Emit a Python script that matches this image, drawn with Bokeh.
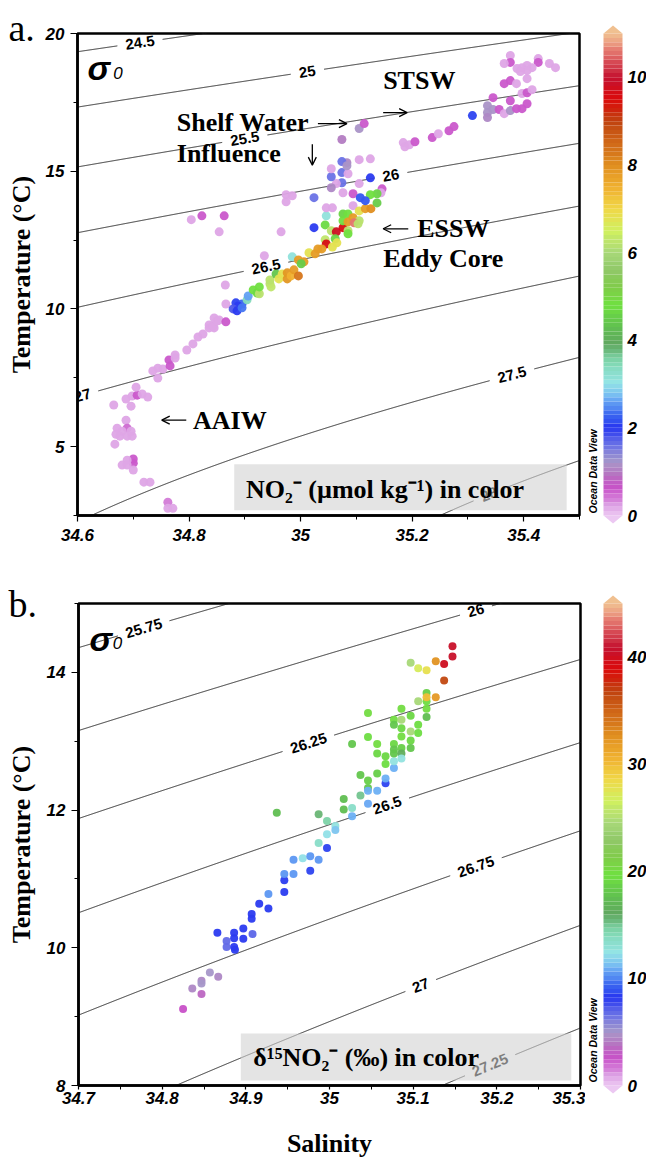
import numpy as np
from bokeh.plotting import figure
from bokeh.layouts import column, row
from bokeh.models import (ColumnDataSource, FixedTicker, CustomJSTickFormatter,
                          Label, BoxAnnotation, Range1d, Arrow, OpenHead)
from bokeh.transform import linear_cmap
from bokeh.core.properties import value
from bokeh.embed import file_html
from bokeh.resources import INLINE

# ------------------------------------------------------------------ data (panel a)
sal_a = [34.665, 34.687, 34.696, 34.698, 34.707, 34.705, 34.716, 34.726, 34.687, 34.689,
         34.671, 34.680, 34.669, 34.667, 34.676, 34.689, 34.698, 34.696, 34.700, 34.700,
         34.689, 34.680, 34.689, 34.700, 34.719, 34.730, 34.762, 34.762, 34.771, 34.744,
         34.735, 34.744, 34.753, 34.775, 34.764, 34.766, 34.775, 34.796, 34.807, 34.816,
         34.825, 34.836, 34.845, 34.836, 34.843, 34.845, 34.850, 34.854, 34.866, 34.866,
         34.865, 34.884, 34.895, 34.888, 34.879, 34.886, 34.895, 34.904, 34.906, 34.915,
         34.922, 34.926, 34.926, 34.935, 34.945, 34.947, 34.945, 34.956, 34.961, 34.967,
         34.976, 34.976, 34.983, 34.988, 34.996, 34.985, 34.996, 35.006, 35.001, 35.015,
         35.026, 35.031, 34.804, 34.823, 34.863, 34.854, 34.974, 34.985, 34.974, 35.024,
         35.024, 34.965, 35.044, 35.055, 35.064, 35.076, 35.062, 35.044, 35.046, 35.057,
         35.038, 35.065, 35.046, 35.046, 35.057, 35.094, 35.105, 35.116, 35.126, 35.076,
         35.085, 35.094, 35.105, 35.076, 35.085, 35.096, 35.103, 35.085, 35.085, 35.076,
         35.094, 35.146, 35.144, 35.137, 35.125, 35.107, 35.116, 35.137, 35.105, 35.074,
         35.064, 35.055, 35.125, 35.055, 35.074, 35.085, 35.055, 35.083, 35.074, 35.083,
         35.105, 35.125, 35.074, 35.105, 35.114, 35.184, 35.187, 35.195, 35.205, 35.236,
         35.247, 35.266, 35.275, 35.308, 35.335, 35.335, 35.335, 35.345, 35.356, 35.365,
         35.376, 35.387, 35.397, 35.345, 35.376, 35.406, 35.397, 35.406, 35.415, 35.365,
         35.376, 35.387, 35.406, 35.376, 35.376, 35.365, 35.426, 35.426, 35.446, 35.457,
         35.388, 35.397, 35.406, 35.415, 35.406, 35.394]
temp_a = [6.51, 6.73, 6.47, 6.84, 6.87, 7.16, 6.91, 6.80, 5.96, 5.67,
          5.67, 5.56, 5.45, 5.09, 5.38, 5.38, 5.38, 5.56, 4.55, 4.40,
          4.51, 4.33, 4.33, 4.15, 3.71, 3.71, 2.98, 2.76, 2.76, 7.85,
          7.75, 7.49, 7.82, 8.33, 8.15, 7.93, 8.22, 8.51, 8.73, 8.98,
          9.09, 9.31, 9.31, 9.42, 9.38, 9.67, 9.56, 9.60, 9.53, 10.18,
          10.87, 10.22, 10.18, 10.11, 10.00, 9.93, 10.04, 10.33, 10.47, 10.69,
          10.58, 10.55, 10.80, 11.93, 10.91, 10.80, 11.05, 11.27, 11.09, 11.27,
          11.31, 11.09, 11.20, 11.42, 11.20, 11.89, 11.78, 11.71, 11.64, 12.04,
          12.00, 12.18, 13.24, 13.38, 13.38, 12.80, 14.15, 14.11, 13.89, 14.04,
          12.95, 12.80, 13.05, 12.84, 12.80, 12.95, 12.55, 12.51, 12.36, 12.25,
          12.18, 12.40, 13.38, 13.67, 13.67, 13.75, 13.56, 13.64, 13.64, 13.45,
          13.45, 13.31, 13.20, 13.20, 13.16, 13.13, 13.09, 12.84, 12.73, 14.22,
          14.18, 14.36, 14.22, 14.18, 14.15, 14.04, 13.93, 13.85, 14.55, 14.58,
          14.55, 14.40, 14.76, 14.80, 14.95, 14.91, 15.09, 15.31, 15.35, 15.20,
          15.42, 15.45, 16.15, 16.55, 16.73, 16.04, 15.89, 15.96, 16.07, 16.22,
          16.36, 16.47, 16.62, 17.02, 17.38, 17.13, 16.95, 17.24, 17.24, 17.09,
          17.20, 17.27, 17.27, 17.67, 17.56, 17.45, 17.82, 17.85, 17.96, 18.18,
          18.29, 18.18, 18.36, 19.20, 18.95, 18.91, 19.09, 18.95, 18.91, 18.76,
          18.73, 18.76, 18.84, 18.76, 18.65, 18.62]
no2_a = [0.2, 0.2, 0.2, 0.2, 0.6, 0.2, 0.2, 0.2, 0.2, 0.5,
         0.2, 0.2, 0.2, 0.2, 0.2, 0.2, 0.2, 0.2, 0.6, 0.6,
         0.2, 0.2, 0.2, 0.2, 0.2, 0.2, 0.4, 0.2, 0.2, 0.2,
         0.2, 0.2, 0.2, 0.2, 0.6, 0.6, 0.2, 0.2, 0.2, 0.2,
         0.2, 0.2, 0.2, 0.2, 0.2, 0.2, 0.2, 0.2, 0.6, 0.2,
         0.2, 2.1, 2.3, 2.0, 1.8, 2.0, 2.4, 3.4, 2.6, 4.8,
         4.7, 6.2, 4.8, 0.2, 6.2, 6.3, 6.2, 4.4, 6.8, 6.8,
         7.9, 7.9, 7.5, 7.8, 8.3, 3.1, 7.8, 7.8, 4.5, 6.8,
         7.8, 7.8, 0.2, 0.6, 0.6, 0.2, 0.2, 0.2, 0.2, 1.6,
         2.0, 0.2, 4.7, 6.2, 9.8, 9.6, 4.6, 6.3, 9.6, 6.8,
         7.8, 6.8, 3.1, 0.2, 0.2, 0.2, 6.8, 7.8, 8.0, 4.6,
         4.8, 7.8, 6.2, 4.8, 7.8, 10.6, 6.2, 6.2, 4.8, 0.2,
         0.6, 0.6, 0.2, 4.6, 4.8, 2.2, 2.2, 4.5, 0.2, 1.6,
         0.2, 1.1, 2.0, 1.6, 1.6, 0.2, 0.2, 1.1, 1.6, 1.2,
         0.2, 0.2, 1.0, 1.2, 0.6, 0.2, 0.2, 0.2, 0.6, 0.6,
         0.2, 0.6, 0.6, 2.1, 1.2, 1.2, 1.1, 1.2, 0.6, 0.2,
         1.2, 0.6, 0.6, 0.6, 0.6, 0.6, 0.2, 0.6, 0.2, 0.6,
         0.6, 0.2, 0.2, 0.2, 0.6, 0.2, 0.2, 0.6, 0.2, 0.2,
         0.2, 0.2, 0.2, 0.2, 0.2, 0.2]

# ------------------------------------------------------------------ data (panel b)
sal_b = [34.825, 34.836, 34.847, 34.847, 34.847, 34.857, 34.867, 34.866, 34.877, 34.877,
         34.886, 34.886, 34.886, 34.887, 34.897, 34.897, 34.908, 34.907, 34.907, 34.916,
         34.927, 34.927, 34.946, 34.946, 34.946, 34.957, 34.957, 34.968, 34.977, 34.977,
         34.987, 34.987, 34.997, 34.997, 35.007, 35.007, 34.997, 34.987, 34.937, 35.017,
         35.017, 35.027, 35.027, 35.037, 35.037, 35.046, 35.046, 35.046, 35.046, 35.057,
         35.057, 35.046, 35.046, 35.057, 35.057, 35.027, 35.067, 35.067, 35.067, 35.067,
         35.077, 35.077, 35.077, 35.077, 35.077, 35.077, 35.077, 35.086, 35.086, 35.086,
         35.086, 35.086, 35.086, 35.086, 35.097, 35.097, 35.097, 35.097, 35.097, 35.106,
         35.106, 35.106, 35.106, 35.116, 35.116, 35.116, 35.116, 35.116, 35.116, 35.127,
         35.127, 35.137, 35.137, 35.147, 35.147]
temp_b = [9.11, 9.41, 9.52, 9.48, 9.33, 9.64, 9.58, 10.22, 10.10, 10.01,
          10.22, 10.14, 10.01, 9.97, 10.28, 10.13, 10.20, 10.49, 10.42, 10.64,
          10.78, 10.57, 10.98, 11.07, 10.81, 11.07, 11.28, 11.30, 11.33, 11.12,
          11.28, 11.52, 11.65, 11.45, 11.77, 11.71, 11.84, 11.94, 11.96, 12.16,
          12.01, 12.03, 11.91, 12.21, 12.51, 12.09, 12.32, 12.28, 12.43, 12.28,
          12.53, 13.06, 13.41, 12.96, 12.82, 12.96, 12.78, 12.67, 12.39, 12.46,
          12.61, 12.71, 12.96, 12.88, 12.82, 13.31, 13.24, 13.47, 13.31, 13.19,
          13.07, 12.90, 12.82, 12.75, 14.14, 13.37, 13.14, 13.01, 12.90, 14.06,
          13.58, 13.24, 13.12, 14.03, 13.70, 13.58, 13.47, 13.35, 13.64, 13.64,
          14.16, 14.12, 13.88, 14.38, 14.23]
d15n_b = [2.5, 4.5, 4.5, 5.0, 3.5, 5.0, 4.5, 8.2, 6.8, 6.8,
          8.2, 8.2, 8.2, 8.2, 8.2, 8.2, 7.0, 8.2, 8.2, 8.2,
          10.5, 8.3, 8.3, 10.5, 8.3, 10.5, 10.5, 12.3, 10.5, 8.5,
          10.5, 13.5, 12.3, 8.5, 12.5, 11.5, 14.5, 15.5, 17.5, 17.5,
          17.5, 13.5, 11.0, 15.0, 18.0, 10.8, 18.0, 11.0, 18.5, 11.0,
          18.5, 19.5, 20.0, 20.0, 19.0, 18.0, 19.0, 19.5, 8.5, 11.0,
          11.0, 12.5, 19.0, 18.0, 18.0, 20.0, 18.0, 20.0, 24.5, 19.0,
          20.0, 18.5, 16.5, 12.5, 24.5, 19.0, 24.5, 19.0, 18.0, 27.0,
          24.5, 19.5, 19.5, 28.0, 18.5, 19.5, 20.0, 17.5, 30.0, 32.0,
          32.5, 40.0, 36.5, 40.5, 40.5]

# axes / ticks / isopycnal levels
xticks_a = [34.6, 34.8, 35.0, 35.2, 35.4]
xminor_a = [34.7, 34.9, 35.1, 35.3, 35.5]
yticks_a = [5, 10, 15, 20]
yminor_a = [2.5, 7.5, 12.5, 17.5]
xticks_b = [34.7, 34.8, 34.9, 35.0, 35.1, 35.2, 35.3]
xminor_b = [34.75, 34.85, 34.95, 35.05, 35.15, 35.25]
yticks_b = [8, 10, 12, 14]
yminor_b = [9, 11, 13, 15]
cbar_ticks_a = [0, 2, 4, 6, 8, 10]
cbar_ticks_b = [0, 10, 20, 30, 40]
NO2_MAX = 11.0
D15N_MAX = 45.0

levels_a = [24.5, 25.0, 25.5, 26.0, 26.5, 27.0, 27.5, 28.0]
label_sal_a = [34.712, 35.012, 34.900, 35.162, 34.938, 34.609, 35.379, 35.338]
levels_b = [25.75, 26.0, 26.25, 26.5, 26.75, 27.0, 27.25]
label_sal_b = [34.778, 35.175, 34.975, 35.069, 35.175, 35.109, 35.192]
SIGMA_SHIFT = 0.13   # offset that matches the isopycnal placement used by the original ODV plot

SERIF = "Liberation Serif"
SANS = "Liberation Sans"

STOPS = [(0.0, "#ecc8f2"), (0.018, "#dca0e4"), (0.055, "#c850c8"), (0.082, "#b870c0"),
         (0.109, "#a898c8"), (0.145, "#6a72e6"), (0.182, "#2838f0"), (0.209, "#3c68f0"),
         (0.245, "#70b4f4"), (0.273, "#94e4e6"), (0.318, "#80d8b0"), (0.355, "#60a860"),
         (0.391, "#60c050"), (0.436, "#70e040"), (0.473, "#80cc48"), (0.509, "#90c868"),
         (0.545, "#a8d878"), (0.591, "#d0f060"), (0.636, "#f0d848"), (0.682, "#f0b030"),
         (0.727, "#e09020"), (0.773, "#d06818"), (0.818, "#c04410"), (0.864, "#dc0a0a"),
         (0.909, "#c41230"), (0.945, "#d85058"), (0.973, "#e88878"), (1.0, "#f0c090")]


def make_palette(stops, n=256):
    pos = np.array([s[0] for s in stops])
    rgb = np.array([[int(c[1:3], 16), int(c[3:5], 16), int(c[5:7], 16)] for _, c in stops], float)
    t = np.linspace(0, 1, n)
    r = np.interp(t, pos, rgb[:, 0]); g = np.interp(t, pos, rgb[:, 1]); b = np.interp(t, pos, rgb[:, 2])
    return ["#%02x%02x%02x" % (int(round(a)), int(round(c)), int(round(d))) for a, c, d in zip(r, g, b)]


PAL = make_palette(STOPS)


def sigma0(S, T):
    rw = (999.842594 + 6.793952e-2 * T - 9.095290e-3 * T ** 2 + 1.001685e-4 * T ** 3
          - 1.120083e-6 * T ** 4 + 6.536332e-9 * T ** 5)
    A = 8.24493e-1 - 4.0899e-3 * T + 7.6438e-5 * T ** 2 - 8.2467e-7 * T ** 3 + 5.3875e-9 * T ** 4
    B = -5.72466e-3 + 1.0227e-4 * T - 1.6546e-6 * T ** 2
    C = 4.8314e-4
    return rw + A * S + B * S ** 1.5 + C * S ** 2 - 1000.0


def iso_T(S, level):
    S = np.asarray(S, float)
    lo = np.full_like(S, -2.0); hi = np.full_like(S, 40.0)
    for _ in range(60):
        mid = 0.5 * (lo + hi)
        f = sigma0(S, mid) - level
        lo = np.where(f > 0, mid, lo)
        hi = np.where(f > 0, hi, mid)
    return 0.5 * (lo + hi)


def no_align(p):
    # keep every figure's frame where its own borders put it (no frame alignment inside rows)
    if "frame_align" in p.properties():
        p.frame_align = False
    return p


def add_isopycnals(p, levels, label_sal, xr, yr, fw, fh, fs=15):
    kx = fw / (xr[1] - xr[0]); ky = fh / (yr[1] - yr[0])
    S = np.linspace(xr[0] - 0.03, xr[1] + 0.03, 900)
    xs, ys = [], []
    lx, ly, lt, la = [], [], [], []
    for lev, sc in zip(levels, label_sal):
        L = lev + SIGMA_SHIFT
        T = iso_T(S, L)
        tc = float(iso_T([sc], L)[0])
        d = 0.003
        t1, t2 = iso_T([sc - d, sc + d], L)
        ang = float(np.arctan2((t2 - t1) * ky, 2 * d * kx))
        txt = f"{lev:g}"
        w = fs * (0.556 * sum(ch.isdigit() for ch in txt) + 0.278 * txt.count("."))
        half = 0.5 * w + 8
        dist = np.hypot((S - sc) * kx, (T - tc) * ky)
        keep = dist > half
        sx, sy = [], []
        for k in range(len(S)):
            if keep[k]:
                sx.append(float(S[k])); sy.append(float(T[k]))
            elif sx:
                xs.append(sx); ys.append(sy); sx, sy = [], []
        if sx:
            xs.append(sx); ys.append(sy)
        lx.append(sc); ly.append(tc); lt.append(txt); la.append(ang)
    p.multi_line(xs, ys, line_color="#1a1a1a", line_width=0.9)
    p.text(x=lx, y=ly, text=lt, angle=la, text_align="center", text_baseline="middle",
           text_font=value(SANS), text_font_style="bold", text_font_size=value(f"{fs}px"),
           text_color="black")


def style_axes(p, xt, xm, yt, ym, x_out, x_stand):
    p.xgrid.visible = False
    p.ygrid.visible = False
    p.outline_line_color = "black"
    p.outline_line_width = 2.5
    fmt = CustomJSTickFormatter(code="return String(Math.round(tick * 1000) / 1000);")
    for ax, t, m in [(p.xaxis[0], xt, xm), (p.yaxis[0], yt, ym)]:
        ax.ticker = FixedTicker(ticks=t, minor_ticks=m)
        ax.formatter = fmt
        ax.axis_line_width = 2.5
        ax.axis_line_color = "black"
        ax.major_tick_line_color = "black"
        ax.major_tick_line_width = 1.2
        ax.minor_tick_line_color = "black"
        ax.minor_tick_line_width = 1.0
        ax.major_tick_in = 0
        ax.minor_tick_in = 0
        ax.minor_tick_out = 4
        ax.major_label_text_font = SANS
        ax.major_label_text_font_style = "bold italic"
        ax.major_label_text_font_size = "17px"
        ax.major_label_text_color = "black"
        ax.axis_label_text_font = SERIF
        ax.axis_label_text_font_style = "bold"
        ax.axis_label_text_font_size = "26px"
        ax.axis_label_text_color = "black"
    p.yaxis[0].major_tick_out = 7
    p.yaxis[0].major_label_standoff = 6
    p.xaxis[0].major_tick_out = x_out
    p.xaxis[0].major_label_standoff = x_stand
    p.xaxis[0].axis_label_standoff = 22


def left_strip(height, tag, tag_baseline_px, ylabel_center_px):
    """Narrow figure on the left holding the panel tag and the rotated temperature label."""
    p = figure(width=40, height=height, x_range=Range1d(0, 40), y_range=Range1d(0, height),
               min_border=0, toolbar_location=None, output_backend="svg", title=None,
               x_axis_location=None, y_axis_location=None, outline_line_color=None)
    no_align(p)
    p.xgrid.visible = False
    p.ygrid.visible = False
    p.text(x=[8], y=[height - tag_baseline_px], text=[tag], text_align="left",
           text_baseline="alphabetic", text_font=value(SERIF), text_font_size=value("38px"),
           text_color="black")
    p.text(x=[21], y=[height - ylabel_center_px], text=["Temperature (°C)"], angle=np.pi / 2,
           text_align="center", text_baseline="middle", text_font=value(SERIF),
           text_font_style="bold", text_font_size=value("26px"), text_color="black")
    return p


def colorbar_fig(vmax, ticks, height, frame_top, frame_bottom, odv_px_from_bottom):
    k = (frame_bottom - frame_top) / vmax
    y0 = -(height - frame_bottom) / k
    y1 = vmax + frame_top / k
    p = figure(width=61, height=height, x_range=Range1d(585, 646), y_range=Range1d(y0, y1),
               min_border=0, toolbar_location=None, output_backend="svg", title=None,
               x_axis_location=None, y_axis_location=None, outline_line_color=None)
    no_align(p)
    p.xgrid.visible = False
    p.ygrid.visible = False
    nb = 110
    edges = np.linspace(0, vmax, nb + 1)
    src = ColumnDataSource(dict(b=edges[:-1], t=edges[1:], v=0.5 * (edges[:-1] + edges[1:])))
    p.quad(left=603, right=622, bottom="b", top="t", source=src, line_color=None,
           fill_color=linear_cmap("v", PAL, 0, vmax))
    h = 8 / k
    p.patches(xs=[[603, 622, 612.5], [603, 622, 612.5]], ys=[[vmax, vmax, vmax + h], [0, 0, -h]],
              fill_color=[PAL[-1], PAL[0]], line_color=None)
    p.text(x=[627] * len(ticks), y=ticks, text=[str(t) for t in ticks], text_align="left",
           text_baseline="middle", text_font=value(SANS), text_font_style="bold italic",
           text_font_size=value("17px"), text_color="black")
    p.text(x=[592], y=[odv_px_from_bottom / k], text=["Ocean Data View"], angle=np.pi / 2,
           text_align="left", text_baseline="middle", text_font=value(SANS),
           text_font_style="bold italic", text_font_size=value("10.5px"), text_color="black")
    return p


def serif_text(p, x, y, txt, size="26px", align="left", baseline="middle", color="black"):
    p.text(x=x, y=y, text=txt, text_align=align, text_baseline=baseline,
           text_font=value(SERIF), text_font_style="bold", text_font_size=value(size),
           text_color=color)


def arrow(p, x0, y0, x1, y1):
    p.add_layout(Arrow(end=OpenHead(size=8, line_width=1.3, line_color="black"),
                       x_start=x0, y_start=y0, x_end=x1, y_end=y1,
                       line_width=1.3, line_color="black"))


# ================================================================== panel a
xr_a = (34.6, 35.5); yr_a = (2.5, 20.0)
pa = figure(width=545, height=560, x_range=Range1d(*xr_a), y_range=Range1d(*yr_a),
            min_border_left=37, min_border_right=6, min_border_top=33, min_border_bottom=45,
            toolbar_location=None, output_backend="svg", title=None)
no_align(pa)
style_axes(pa, xticks_a, xminor_a, yticks_a, yminor_a, 6, 7)
add_isopycnals(pa, levels_a, label_sal_a, xr_a, yr_a, 502, 482)

src_a = ColumnDataSource(dict(sal=sal_a, temp=temp_a, val=no2_a))
pa.scatter("sal", "temp", source=src_a, size=9, line_color=None,
           fill_color=linear_cmap("val", PAL, 0, NO2_MAX), fill_alpha=0.95)

# sigma_0 tag
pa.text(x=[34.618], y=[18.73], text=["σ"], text_align="left", text_baseline="alphabetic",
        text_font=value(SANS), text_font_style="bold italic", text_font_size=value("34px"))
pa.text(x=[34.664], y=[18.58], text=["0"], text_align="left", text_baseline="alphabetic",
        text_font=value(SANS), text_font_style="italic", text_font_size=value("17px"))

# water-mass annotations
serif_text(pa, [34.778, 34.778, 35.148, 35.209, 35.148, 34.807],
           [16.76, 15.64, 18.29, 12.91, 11.82, 5.96],
           ["Shelf Water", "Influence", "STSW", "ESSW", "Eddy Core", "AAIW"])
arrow(pa, 35.031, 16.73, 35.083, 16.73)      # Shelf Water ->
arrow(pa, 35.021, 15.98, 35.021, 15.22)      # Influence (down)
arrow(pa, 35.148, 17.13, 35.191, 17.13)      # STSW ->
arrow(pa, 35.193, 12.91, 35.148, 12.91)      # <- ESSW
arrow(pa, 34.795, 5.96, 34.751, 5.96)        # <- AAIW

pa.add_layout(BoxAnnotation(left=34.881, right=35.477, bottom=2.69, top=4.36,
                            fill_color="#d2d2d2", fill_alpha=0.6, line_color=None))
pa.add_layout(Label(x=34.902, y=3.45, text="NO\u2082\u207b (\u00b5mol kg\u207b\u00b9) in color",
                    text_font=SERIF, text_font_style="bold", text_font_size="26px",
                    text_baseline="middle", text_align="left", text_color="black"))

la = left_strip(560, "a.", 27, 274)
cba = colorbar_fig(NO2_MAX, cbar_ticks_a, 560, 33, 515, 2)

# ================================================================== panel b
xr_b = (34.7, 35.3); yr_b = (8.0, 15.0)
pb = figure(width=545, height=600, x_range=Range1d(*xr_b), y_range=Range1d(*yr_b),
            min_border_left=38, min_border_right=5, min_border_top=43, min_border_bottom=75,
            toolbar_location=None, output_backend="svg", title=None)
no_align(pb)
style_axes(pb, xticks_b, xminor_b, yticks_b, yminor_b, 4, 2)
pb.xaxis[0].axis_label = "Salinity"
add_isopycnals(pb, levels_b, label_sal_b, xr_b, yr_b, 502, 482)

src_b = ColumnDataSource(dict(sal=sal_b, temp=temp_b, val=d15n_b))
pb.scatter("sal", "temp", source=src_b, size=8, line_color=None,
           fill_color=linear_cmap("val", PAL, 0, D15N_MAX), fill_alpha=0.95)

pb.text(x=[34.713], y=[14.48], text=["σ"], text_align="left", text_baseline="alphabetic",
        text_font=value(SANS), text_font_style="bold italic", text_font_size=value("34px"))
pb.text(x=[34.741], y=[14.43], text=["0"], text_align="left", text_baseline="alphabetic",
        text_font=value(SANS), text_font_style="italic", text_font_size=value("17px"))

pb.add_layout(BoxAnnotation(left=34.894, right=35.289, bottom=8.072, top=8.754,
                            fill_color="#d2d2d2", fill_alpha=0.6, line_color=None))
pb.add_layout(Label(x=34.909, y=8.41, text="\u03b4\u00b9\u2075NO\u2082\u207b  (\u2030) in color",
                    text_font=SERIF, text_font_style="bold", text_font_size="26px",
                    text_baseline="middle", text_align="left", text_color="black"))

lb = left_strip(600, "b.", 43, 284)
cbb = colorbar_fig(D15N_MAX, cbar_ticks_b, 600, 43, 525, 3)

layout = column(row(la, pa, cba), row(lb, pb, cbb))
with open("out.html", "w") as f:
    f.write(file_html(layout, INLINE, title="T-S diagrams"))
